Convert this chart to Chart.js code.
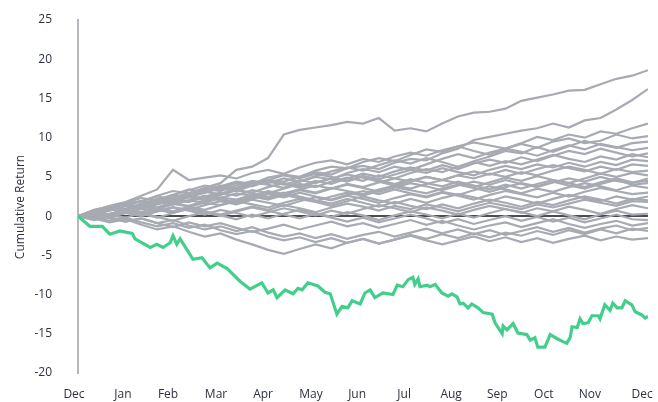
<!DOCTYPE html>
<html>
<head>
<meta charset="utf-8">
<script src="https://cdn.jsdelivr.net/npm/chart.js@4/dist/chart.umd.min.js"></script>
<style>
  html, body { margin: 0; padding: 0; background: #ffffff; }
  #returnsChart { display: block; }
</style>
</head>
<body>
<canvas id="returnsChart" width="658" height="402"></canvas>
<script>
// Axis labels (month names) and where they sit on the month scale
const monthLabels = ["Dec", "Jan", "Feb", "Mar", "Apr", "May", "Jun", "Jul", "Aug", "Sep", "Oct", "Nov", "Dec"];
const monthTicks = [0, 1.03, 1.98, 2.99, 3.98, 4.99, 5.96, 6.95, 7.94, 8.91, 9.89, 10.86, 11.96];

// Highlighted portfolio (green), x in months since start
const greenMonths = [0, 0.25, 0.51, 0.67, 0.88, 1.14, 1.2, 1.35, 1.52, 1.66, 1.79, 1.94, 2.0, 2.08, 2.15,
  2.42, 2.61, 2.78, 2.93, 3.14, 3.41, 3.62, 3.87, 4.0, 4.11, 4.19, 4.36, 4.46, 4.53, 4.63, 4.72, 4.84,
  5.05, 5.2, 5.31, 5.45, 5.56, 5.68, 5.77, 5.94, 6.04, 6.15, 6.25, 6.42, 6.63, 6.72, 6.84, 6.95, 7.05,
  7.09, 7.16, 7.2, 7.35, 7.41, 7.52, 7.66, 7.79, 7.87, 7.98, 8.04, 8.11, 8.21, 8.29, 8.42, 8.53, 8.72,
  8.78, 8.93, 8.95, 9.03, 9.16, 9.26, 9.45, 9.52, 9.62, 9.68, 9.83, 9.94, 10.08, 10.21, 10.29, 10.36,
  10.4, 10.51, 10.57, 10.63, 10.74, 10.82, 10.95, 10.99, 11.09, 11.2, 11.26, 11.35, 11.45, 11.52,
  11.66, 11.73, 11.87, 11.94, 12.0];
const greenValues = [0, -1.3, -1.3, -2.3, -1.9, -2.2, -2.9, -3.4, -4.0, -3.6, -4.0, -3.4, -2.5, -3.6, -2.9,
  -5.5, -5.3, -6.6, -6.0, -6.7, -8.3, -9.3, -8.5, -9.8, -9.4, -10.4, -9.4, -9.7, -9.9, -9.2, -9.4, -8.5,
  -8.9, -9.7, -9.9, -12.5, -11.5, -11.7, -10.8, -11.2, -9.8, -9.4, -10.4, -9.8, -10.0, -8.8, -9.0, -8.1, -7.8,
  -8.7, -8.0, -9.0, -8.8, -9.0, -8.7, -9.8, -10.2, -9.9, -10.3, -11.2, -11.1, -11.7, -11.2, -11.7, -12.3, -12.5,
  -13.6, -15.0, -14.0, -14.5, -13.7, -14.9, -15.1, -15.8, -15.5, -16.7, -16.7, -15.1, -15.6, -16.0, -16.2, -15.5,
  -14.1, -14.2, -13.1, -13.7, -13.6, -12.7, -12.7, -13.1, -11.3, -12.0, -11.1, -11.7, -11.7, -10.8,
  -11.3, -12.2, -12.6, -13.0, -12.8];

// Comparison portfolios (grey), one value every third of a month
const greyStep = 1 / 3;
const greyPaths = [
  [0, 0.8, 1.2, 1.6, 1.9, 2.6, 3.2, 2.9, 3.6, 4.2, 5.9, 6.3, 7.4, 10.4, 11.0, 11.3, 11.6, 12.0, 11.8, 12.5, 10.9, 11.2, 10.8, 11.8, 12.7, 13.2, 13.3, 13.7, 14.7, 15.1, 15.5, 16.0, 16.1, 16.8, 17.5, 17.9, 18.6],
  [0, 0.6, 1.1, 0.9, 1.6, 2.2, 2.0, 2.8, 3.1, 3.5, 3.3, 4.1, 4.6, 4.4, 5.0, 5.6, 5.3, 6.1, 6.4, 6.0, 6.8, 7.3, 7.1, 8.0, 8.6, 9.7, 10.1, 10.5, 10.9, 11.2, 11.8, 11.3, 12.2, 12.5, 13.6, 14.8, 16.2],
  [0, 0.4, 0.9, 1.5, 1.2, 2.0, 2.7, 3.4, 3.0, 3.8, 4.4, 4.1, 4.9, 5.3, 5.0, 5.8, 6.3, 6.1, 6.9, 7.4, 7.0, 7.8, 8.5, 8.2, 8.9, 9.4, 9.0, 8.6, 9.3, 10.1, 9.7, 10.4, 10.0, 10.8, 10.5, 11.2, 11.8],
  [0, 0.7, 1.3, 1.8, 2.6, 3.4, 5.9, 4.6, 4.9, 5.2, 4.8, 5.5, 5.9, 5.4, 6.2, 6.8, 7.1, 6.6, 7.3, 6.9, 7.6, 8.1, 7.7, 8.4, 8.9, 8.3, 7.8, 8.6, 9.2, 8.7, 9.5, 9.9, 9.3, 9.6, 10.4, 9.9, 10.2],
  [0, 0.3, 0.8, 1.4, 1.9, 1.6, 2.4, 2.9, 3.5, 3.2, 3.9, 4.5, 4.2, 4.8, 4.4, 5.1, 5.7, 6.2, 5.8, 6.5, 7.1, 6.7, 7.4, 6.9, 6.3, 7.0, 7.6, 8.3, 8.0, 8.8, 8.2, 8.9, 9.6, 9.1, 8.7, 9.3, 9.5],
  [0, 0.5, 0.2, 0.9, 1.5, 2.1, 1.7, 2.5, 3.1, 2.8, 3.6, 4.3, 4.0, 3.6, 4.4, 5.0, 4.7, 5.5, 6.0, 5.6, 6.3, 5.9, 6.6, 7.3, 7.9, 7.4, 8.1, 8.6, 8.2, 7.7, 8.4, 9.0, 8.5, 9.2, 8.8, 8.4, 8.7],
  [0, 0.6, 1.0, 0.7, 1.4, 1.1, 1.8, 2.4, 2.0, 2.7, 3.3, 3.0, 3.7, 4.2, 3.8, 4.5, 4.1, 4.8, 5.4, 5.0, 5.7, 6.2, 5.8, 6.5, 6.0, 6.7, 7.2, 6.8, 7.5, 7.0, 7.7, 8.3, 7.9, 8.6, 8.1, 7.6, 8.0],
  [0, 0.2, 0.7, 1.3, 1.0, 1.6, 2.2, 1.8, 2.5, 3.0, 2.6, 3.3, 2.9, 3.5, 4.1, 3.7, 4.4, 4.9, 4.5, 5.2, 4.8, 5.5, 6.0, 5.6, 6.3, 6.9, 6.4, 7.0, 6.6, 7.2, 7.8, 7.3, 6.9, 7.6, 7.2, 7.9, 7.5],
  [0, 0.5, 1.1, 1.7, 2.3, 2.0, 2.7, 3.3, 3.9, 3.5, 4.2, 3.8, 4.5, 4.1, 3.6, 4.3, 4.8, 4.4, 5.1, 4.7, 5.3, 5.9, 5.5, 6.1, 5.6, 5.2, 5.9, 6.4, 6.0, 6.6, 6.2, 6.8, 6.3, 6.9, 6.5, 7.2, 7.0],
  [0, 0.4, 0.1, 0.7, 1.2, 0.9, 1.5, 2.0, 1.7, 2.3, 2.9, 2.6, 3.2, 2.8, 3.4, 3.9, 3.5, 4.1, 3.7, 4.3, 4.8, 4.4, 5.0, 4.6, 5.2, 5.7, 5.3, 5.9, 5.4, 6.0, 6.5, 6.1, 5.7, 6.3, 5.9, 6.6, 6.4],
  [0, 0.6, 1.2, 0.9, 1.5, 2.1, 2.7, 2.4, 3.0, 3.6, 3.2, 3.9, 4.4, 4.0, 4.6, 4.2, 4.8, 5.3, 4.9, 4.4, 3.9, 4.5, 5.0, 4.6, 5.2, 4.8, 5.4, 5.0, 5.6, 5.2, 5.8, 6.3, 5.9, 5.4, 6.0, 5.6, 5.8],
  [0, -0.2, 0.3, 0.8, 0.5, 1.1, 1.6, 1.3, 1.9, 2.4, 2.1, 2.7, 2.3, 2.9, 3.4, 3.0, 3.6, 3.2, 2.8, 3.4, 3.9, 3.5, 4.1, 4.6, 4.2, 3.7, 4.3, 4.9, 4.5, 5.1, 4.6, 4.2, 4.8, 5.4, 5.0, 5.5, 5.2],
  [0, 0.3, 0.9, 0.6, 1.2, 1.8, 1.5, 2.0, 2.6, 2.2, 1.8, 2.4, 3.0, 2.7, 3.3, 2.9, 3.5, 4.0, 3.6, 3.1, 3.7, 4.2, 3.8, 3.3, 3.9, 4.4, 4.0, 4.6, 4.1, 3.7, 4.3, 4.8, 4.4, 5.0, 4.5, 4.2, 4.8],
  [0, 0.5, 0.2, 0.8, 1.3, 1.0, 0.6, 1.2, 1.7, 1.4, 2.0, 2.5, 2.1, 2.7, 2.3, 1.9, 2.5, 3.0, 2.6, 3.2, 3.7, 3.3, 2.9, 3.5, 4.0, 3.6, 3.1, 3.7, 4.2, 3.8, 4.4, 3.9, 3.5, 4.1, 4.6, 4.0, 4.2],
  [0, 0.4, 0.9, 1.5, 1.1, 1.7, 2.2, 1.9, 2.5, 2.0, 1.6, 2.2, 2.8, 2.4, 3.0, 2.5, 2.1, 2.7, 3.2, 2.8, 3.4, 2.9, 2.5, 3.1, 2.7, 3.3, 3.8, 3.4, 2.9, 3.5, 3.1, 3.7, 4.2, 3.8, 3.3, 3.9, 3.6],
  [0, 0.2, -0.1, 0.4, 0.9, 0.6, 1.1, 0.8, 1.4, 1.9, 1.5, 2.1, 1.7, 1.3, 1.9, 2.4, 2.0, 2.6, 2.2, 1.7, 2.3, 2.8, 2.4, 3.0, 2.6, 2.1, 2.7, 3.2, 2.8, 2.4, 3.0, 2.5, 3.1, 3.6, 3.2, 2.8, 3.0],
  [0, 0.5, 1.0, 0.7, 1.3, 1.0, 1.6, 1.2, 0.8, 1.4, 1.9, 1.5, 1.1, 1.7, 2.2, 1.8, 1.3, 1.9, 2.5, 2.0, 1.6, 2.2, 1.7, 2.3, 2.8, 2.4, 1.9, 2.5, 2.1, 1.6, 2.2, 2.7, 2.3, 1.9, 2.5, 2.1, 2.5],
  [0, -0.3, 0.2, 0.6, 0.3, 0.8, 0.4, 1.0, 0.6, 0.2, 0.7, 1.2, 0.8, 1.4, 1.0, 0.5, 1.1, 1.6, 1.2, 0.7, 1.3, 0.9, 1.5, 1.1, 0.6, 1.2, 1.7, 1.3, 0.9, 1.5, 1.1, 1.6, 2.1, 1.7, 1.3, 1.9, 1.8],
  [0, 0.3, -0.1, 0.4, 0.0, 0.6, 1.1, 0.7, 0.2, 0.8, 0.4, -0.1, 0.5, 1.0, 0.6, 0.1, 0.7, 0.3, 0.9, 1.4, 1.0, 0.5, 1.1, 0.7, 0.2, 0.8, 1.3, 0.9, 0.4, 1.0, 0.6, 1.2, 0.8, 0.3, 0.9, 1.4, 1.0],
  [0, -0.4, 0.1, -0.2, 0.4, -0.1, -0.6, 0.0, 0.5, 0.1, -0.4, 0.2, -0.3, 0.3, 0.8, 0.4, -0.1, 0.5, 0.1, -0.5, 0.1, 0.6, 0.2, -0.3, 0.3, -0.2, 0.4, 0.9, 0.5, 0.0, 0.6, 0.1, -0.4, 0.2, 0.7, 0.2, 0.3],
  [0, -0.5, -0.1, -0.7, -0.3, -0.9, -1.4, -0.8, -1.3, -0.9, -1.5, -2.0, -1.6, -1.1, -1.7, -1.2, -0.7, -1.3, -0.9, -1.5, -1.0, -0.5, -1.1, -0.6, -1.2, -1.7, -1.2, -0.8, -1.4, -0.9, -0.4, -1.0, -1.5, -1.0, -0.6, -1.2, -0.9],
  [0, -0.3, -0.8, -0.4, -1.1, -1.7, -1.3, -2.0, -2.6, -2.2, -3.0, -3.6, -4.3, -4.8, -4.2, -3.6, -4.1, -3.4, -2.9, -3.5, -3.0, -2.4, -2.9, -2.3, -2.8, -2.2, -2.7, -2.1, -2.5, -1.9, -2.4, -1.8, -2.3, -1.7, -2.2, -1.6, -1.9],
  [0, -0.2, -0.6, -0.2, -0.8, -1.3, -0.9, -1.5, -1.1, -1.8, -2.3, -1.9, -2.6, -3.1, -2.7, -3.3, -2.8, -3.4, -2.9, -3.5, -3.0, -2.5, -3.1, -3.6, -3.1, -2.6, -3.2, -2.7, -3.3, -2.8, -3.4, -2.9, -2.5, -3.1, -2.6, -3.0, -2.8],
  [0, 0.2, -0.3, -0.7, -0.3, -0.9, -0.5, -1.2, -1.7, -1.3, -1.9, -1.4, -2.1, -2.6, -2.2, -2.8, -2.3, -2.9, -2.4, -2.0, -2.6, -2.1, -1.6, -2.2, -1.7, -2.3, -1.8, -2.4, -1.9, -1.4, -2.0, -1.5, -2.1, -1.6, -1.2, -1.8, -1.5],
  [0, 0.4, 0.8, 1.3, 0.9, 1.5, 2.0, 2.6, 2.2, 2.8, 3.3, 2.9, 2.4, 3.0, 2.5, 2.0, 1.6, 2.2, 1.7, 1.2, 1.8, 1.3, 0.9, 1.5, 1.0, 1.6, 2.1, 1.7, 1.2, 1.8, 1.4, 2.0, 2.5, 2.1, 1.6, 2.2, 2.0],
  [0, 0.3, 0.8, 1.4, 1.9, 2.5, 2.1, 2.8, 3.3, 3.9, 3.5, 4.1, 4.6, 5.2, 4.8, 5.4, 5.0, 4.5, 5.1, 4.6, 4.1, 4.7, 4.2, 3.8, 4.4, 3.9, 3.4, 4.0, 3.5, 4.1, 4.6, 4.2, 3.7, 4.3, 4.8, 4.3, 4.5],
  [0, -0.2, 0.3, 0.7, 0.3, -0.2, 0.4, 0.9, 0.5, 0.0, 0.6, 1.1, 0.7, 0.2, -0.3, 0.3, -0.2, -0.7, -0.2, -0.8, -0.3, 0.2, -0.3, -0.9, -0.4, -1.0, -0.5, 0.0, -0.6, -0.1, -0.7, -0.2, -0.8, -0.3, 0.2, -0.4, -0.5]
];

const GREY = "#a7aab2";
const GREEN = "#43cf8b";
const TEXT = "#2d3140";

const datasets = [
  {
    label: "Portfolio",
    data: greenMonths.map((m, i) => ({ x: m, y: greenValues[i] })),
    borderColor: GREEN,
    borderWidth: 3.2,
    pointRadius: 0,
    tension: 0,
  },
];

greyPaths.forEach((path, n) => {
  datasets.push({
    label: "Peer " + (n + 1),
    data: path.map((v, k) => ({ x: k * greyStep, y: v })),
    borderColor: GREY,
    borderWidth: 2.2,
    pointRadius: 0,
    tension: 0,
  });
});

// Black reference line at zero, drawn underneath the series
const zeroLine = {
  id: "zeroLine",
  beforeDatasetsDraw(chart) {
    const { ctx, chartArea, scales } = chart;
    const y = scales.y.getPixelForValue(0);
    ctx.save();
    ctx.strokeStyle = "#111111";
    ctx.lineWidth = 1.5;
    ctx.beginPath();
    ctx.moveTo(chartArea.left, y);
    ctx.lineTo(chartArea.right, y);
    ctx.stroke();
    ctx.restore();
  },
};

// Rotated y-axis title, sits a bit below the middle like the original
const yTitle = {
  id: "yTitle",
  afterDraw(chart) {
    const { ctx } = chart;
    ctx.save();
    ctx.translate(21, 207);
    ctx.rotate(-Math.PI / 2);
    ctx.font = "12px 'Open Sans', sans-serif";
    ctx.fillStyle = TEXT;
    ctx.textAlign = "center";
    ctx.textBaseline = "middle";
    ctx.fillText("Cumulative Return", 0, 0);
    ctx.restore();
  },
};

const ctx = document.getElementById("returnsChart").getContext("2d");
Chart.defaults.font.family = "'Open Sans', sans-serif";
Chart.defaults.font.size = 12;
Chart.defaults.color = TEXT;

// invisible tick marks give the label gap without inflating the layout padding
new Chart(ctx, {
  type: "line",
  data: { datasets: datasets },
  options: {
    responsive: false,
    animation: false,
    layout: { autoPadding: false, padding: { top: 20, right: 10, left: 0, bottom: 0 } },
    plugins: {
      legend: { display: false },
      tooltip: { enabled: false },
    },
    scales: {
      x: {
        type: "linear",
        min: 0,
        max: 12,
        grid: { display: true, drawOnChartArea: false, drawTicks: true, tickLength: 14, tickColor: "rgba(0,0,0,0)" },
        border: { display: false },
        afterFit(scale) {
          scale.height = 29;
        },
        afterBuildTicks(scale) {
          scale.ticks = monthTicks.map((v) => ({ value: v }));
        },
        ticks: {
          autoSkip: false,
          maxRotation: 0,
          padding: 0,
          labelOffset: -4,
          callback: (value, index) => monthLabels[index],
        },
      },
      y: {
        min: -20,
        max: 25,
        grid: { display: true, drawOnChartArea: false, drawTicks: true, tickLength: 26, tickColor: "rgba(0,0,0,0)" },
        border: { display: true, color: "#b4b7be", width: 2 },
        afterFit(scale) {
          scale.width = 78;
        },
        ticks: {
          stepSize: 5,
          padding: 0,
        },
      },
    },
  },
  plugins: [zeroLine, yTitle],
});
</script>
</body>
</html>
